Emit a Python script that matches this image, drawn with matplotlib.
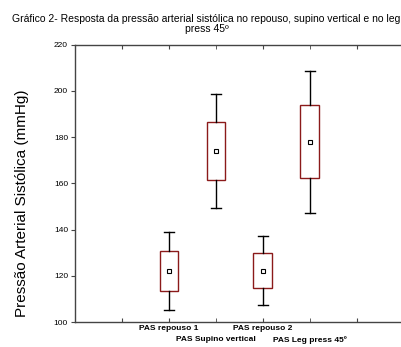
"""
Boxplot da pressao arterial sistolica (repouso, supino vertical, leg press 45)
"""

import matplotlib
matplotlib.use("Agg")
import matplotlib.pyplot as plt

plt.rcParams["font.family"] = ["Liberation Sans", "DejaVu Sans"]

# dados
labels = ["PAS repouso 1", "PAS Supino vertical", "PAS repouso 2", "PAS Leg press 45º"]
positions = [2, 3, 4, 5]
means = [122.1, 174.1, 122.2, 177.8]
box_low = [113.4, 161.5, 114.6, 162.3]
box_high = [130.7, 186.7, 130.0, 193.8]
whisk_low = [105.2, 149.5, 107.4, 147.0]
whisk_high = [139.1, 198.8, 137.4, 208.8]

stats = []
for i in range(len(labels)):
    stats.append({
        "label": labels[i],
        "mean": means[i],
        "med": means[i],
        "q1": box_low[i],
        "q3": box_high[i],
        "whislo": whisk_low[i],
        "whishi": whisk_high[i],
        "fliers": [],
    })

fig = plt.figure(figsize=(4.01, 3.47), dpi=100)
ax = fig.add_axes([0.187, 0.072, 0.82, 0.799])

dark_red = "#8b1a1a"
ax.bxp(
    stats,
    positions=positions,
    widths=0.4,
    showmeans=True,
    showfliers=False,
    patch_artist=True,
    boxprops=dict(facecolor="white", edgecolor=dark_red, linewidth=1.0),
    whiskerprops=dict(color="black", linewidth=1.0),
    capprops=dict(color="black", linewidth=1.0),
    capwidths=0.21,
    medianprops=dict(visible=False),
    meanprops=dict(marker="s", markersize=2.5, markerfacecolor="white",
                   markeredgecolor="black", markeredgewidth=0.8),
)

ax.set_xlim(0, 7)
ax.set_ylim(100, 220)
ax.set_yticks([100, 120, 140, 160, 180, 200, 220])

# primeira linha de rotulos nos ticks maiores, segunda linha nos menores
ax.set_xticks([1, 2, 4, 6])
ax.set_xticklabels(["", labels[0], labels[2], ""], fontsize=6, fontweight="bold")
ax.set_xticks([3, 5], minor=True)
ax.set_xticklabels([labels[1], labels[3]], minor=True, fontsize=6, fontweight="bold")
ax.tick_params(axis="x", which="both", direction="in", top=True, length=3,
               color="#444444")
ax.tick_params(axis="x", which="major", pad=2)
ax.tick_params(axis="x", which="minor", pad=10)
ax.tick_params(axis="y", direction="out", length=3, labelsize=6, pad=2, color="#444444")

for side in ["left", "top", "bottom"]:
    ax.spines[side].set_color("#444444")
    ax.spines[side].set_linewidth(1.0)
ax.spines["right"].set_visible(False)

fig.text(0.515, 0.96,
         "Gráfico 2- Resposta da pressão arterial sistólica no repouso, supino vertical e no leg\npress 45º",
         ha="center", va="top", fontsize=7.5, linespacing=1.0)
fig.text(0.055, 0.415, "Pressão Arterial Sistólica (mmHg)", rotation=90,
         ha="center", va="center", fontsize=11)

fig.savefig("out.png", dpi=100)
